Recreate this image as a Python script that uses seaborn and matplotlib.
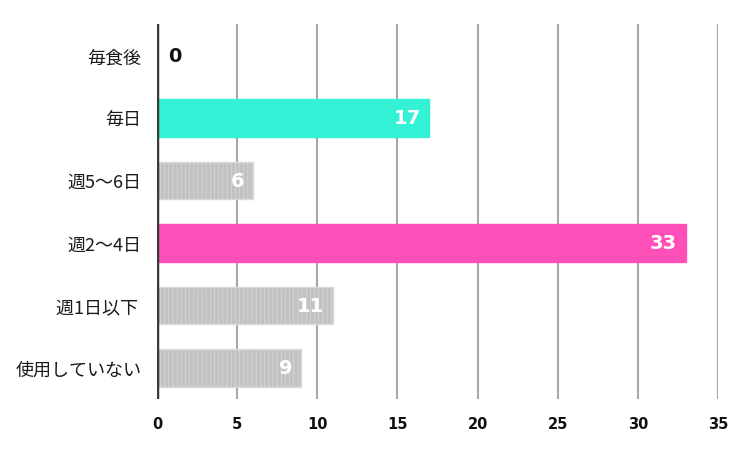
import matplotlib
matplotlib.use("Agg")
import matplotlib.pyplot as plt
import seaborn as sns
import pandas as pd

categories = ["毎食後", "毎日", "週5～6日", "週2～4日", "週1日以下 ", "使用していない"]
values = [0, 17, 6, 33, 11, 9]
bar_colors = ["#c2c2c2", "#33f2d5", "#c2c2c2", "#ff4fb8", "#c2c2c2", "#c2c2c2"]
x_ticks = [0, 5, 10, 15, 20, 25, 30, 35]

sns.set_theme(style="white")
plt.rcParams["font.family"] = ["Noto Sans CJK JP", "DejaVu Sans"]
plt.rcParams["hatch.color"] = "#cbcbcb"
plt.rcParams["hatch.linewidth"] = 0.5

df = pd.DataFrame({"cat": categories, "val": values})

fig = plt.figure(figsize=(7.52, 4.52), dpi=100)
ax = fig.add_axes([157/752, 1-400/452, (718-157)/752, (400-25)/452])

sns.barplot(data=df, y="cat", x="val", hue="cat", palette=bar_colors,
            legend=False, width=0.6, ax=ax, saturation=1, orient="h")

for i, p in enumerate(ax.patches):
    c = bar_colors[i]
    if c == "#c2c2c2":
        p.set_hatch("||||")
        p.set_edgecolor("#dadada")
    else:
        p.set_edgecolor(c)
    p.set_linewidth(1.0)

ax.set_xlim(0, 35)
ax.set_ylim(5.5, -0.5)
ax.set_xticks(x_ticks)
ax.set_xticklabels([str(t) for t in x_ticks], fontsize=10.5, fontweight="bold",
                   color="#111111", family="DejaVu Sans")
ax.set_yticks(range(len(categories)))
ax.set_yticklabels(categories, fontsize=13, color="#1a1a1a")
ax.tick_params(axis="x", length=0, pad=12)
ax.tick_params(axis="y", length=0, pad=11)
ax.set_xlabel("")
ax.set_ylabel("")

for s in ["top", "right", "bottom", "left"]:
    ax.spines[s].set_visible(False)

for t in x_ticks[1:]:
    ax.axvline(t, color="#a8a8a8", lw=1.5, zorder=0)
ax.axvline(0, color="#3a3a3a", lw=2.5, zorder=3)

for i, v in enumerate(values):
    if v == 0:
        ax.text(0.7, i, str(v), va="center", ha="left", fontsize=14,
                fontweight="bold", color="#111111", family="DejaVu Sans")
    else:
        ax.text(v - 0.55, i, str(v), va="center", ha="right", fontsize=14,
                fontweight="bold", color="white", family="DejaVu Sans")

fig.savefig("out.png", dpi=100)
